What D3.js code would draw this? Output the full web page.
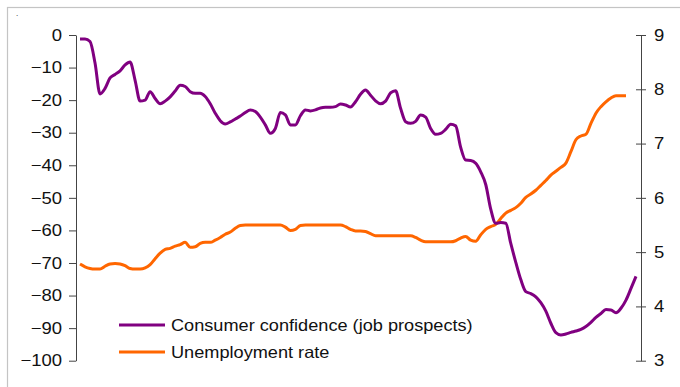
<!DOCTYPE html>
<html>
<head>
<meta charset="utf-8">
<script src="https://cdn.jsdelivr.net/npm/d3@7"></script>
<style>
  html, body { margin: 0; padding: 0; background: #fff; }
  svg { display: block; }
  text { font-family: "Liberation Sans", Arial, Helvetica, sans-serif; fill: #111; }
</style>
</head>
<body>
<svg id="chart" width="680" height="387"></svg>
<script>
// Consumer confidence (job prospects), balance of opinion, monthly
const confidence = [
  -1.2, -1.2, -2, -8.6, -18.1, -16.4, -13.2, -12.1, -11.0, -9.2,
  -8.3, -13.9, -20.3, -20, -17.4, -19.5, -21.1, -20.3, -19, -17.2,
  -15.4, -15.8, -17.4, -17.9, -17.9, -18.9, -21.1, -24, -26.3, -27.3,
  -26.7, -25.8, -24.9, -23.8, -23, -23.5, -25.2, -27.6, -30.2, -28.7,
  -23.8, -24.5, -27.6, -27.6, -24.8, -23, -23.3, -23, -22.4, -22.2,
  -22.2, -22, -21.2, -21.5, -22.1, -20.5, -18.2, -16.9, -18.5, -20.2,
  -21.1, -20.3, -17.8, -17.1, -22.5, -26.6, -27.1, -26.5, -24.6, -25.2,
  -28.7, -30.5, -30.2, -29, -27.4, -27.9, -34.5, -38.4, -38.5, -39.4,
  -42, -45.9, -53.5, -57.8, -57.6, -57.8, -64, -69.8, -75.1, -78.8,
  -79.4, -80.4, -82.2, -84.8, -88.5, -91.4, -92.1, -91.8, -91.3, -90.9,
  -90.4, -89.5, -88.2, -86.7, -85.5, -84.3, -84.4, -85.3, -83.9, -81.4,
  -77.8, -74.1
];

// Unemployment rate, %, same months (one fewer observation at the end)
const unemployment = [
  4.78, 4.73, 4.70, 4.69, 4.69, 4.74, 4.78, 4.79, 4.78, 4.75,
  4.70, 4.69, 4.69, 4.71, 4.77, 4.88, 4.98, 5.05, 5.07, 5.11,
  5.14, 5.18, 5.09, 5.10, 5.16, 5.18, 5.18, 5.22, 5.27, 5.33,
  5.37, 5.44, 5.49, 5.50, 5.50, 5.50, 5.50, 5.50, 5.50, 5.50,
  5.50, 5.46, 5.40, 5.42, 5.49, 5.50, 5.50, 5.50, 5.50, 5.50,
  5.50, 5.50, 5.50, 5.47, 5.42, 5.39, 5.39, 5.38, 5.34, 5.30,
  5.30, 5.30, 5.30, 5.30, 5.30, 5.30, 5.30, 5.27, 5.22, 5.19,
  5.19, 5.19, 5.19, 5.19, 5.19, 5.21, 5.26, 5.29, 5.22, 5.20,
  5.32, 5.42, 5.47, 5.51, 5.62, 5.72, 5.77, 5.82, 5.90, 6.01,
  6.07, 6.14, 6.23, 6.32, 6.42, 6.49, 6.56, 6.64, 6.85, 7.07,
  7.14, 7.17, 7.37, 7.56, 7.68, 7.77, 7.84, 7.88, 7.88, 7.88
];

const leftTicks = [0, -10, -20, -30, -40, -50, -60, -70, -80, -90, -100];
const rightTicks = [3, 4, 5, 6, 7, 8, 9];
const seriesNames = ["Consumer confidence (job prospects)", "Unemployment rate"];
const seriesColors = ["#800080", "#ff6600"];

const svg = d3.select("#chart");

// outer frame
svg.append("rect")
  .attr("x", 7.5).attr("y", 7.5)
  .attr("width", 690).attr("height", 400)
  .attr("fill", "none").attr("stroke", "#c4c4c4").attr("stroke-width", 1.2);

svg.append("text").attr("x", 16).attr("y", 16).attr("font-size", 8).text(".");

const plot = { left: 76, right: 641, top: 35, bottom: 360.7 };

const x = d3.scaleLinear().domain([0, confidence.length - 1]).range([80, 636]);
const yL = d3.scaleLinear().domain([-100, 0]).range([plot.bottom, plot.top]);
const yR = d3.scaleLinear().domain([3, 9]).range([plot.bottom, plot.top]);

function styleTickText(sel) {
  sel.attr("font-size", 16.5)
    .attr("font-family", "Liberation Sans, Arial, sans-serif")
    .attr("fill", "#111")
    .each(function () {
      // slightly wide lettering
      const w = this.getComputedTextLength();
      d3.select(this).attr("textLength", w * 1.12).attr("lengthAdjust", "spacingAndGlyphs");
    });
}

// left axis
const gL = svg.append("g")
  .attr("transform", `translate(${plot.left},0)`)
  .call(d3.axisLeft(yL).tickValues(leftTicks).tickSizeInner(7).tickSizeOuter(0).tickPadding(7)
    .tickFormat(d3.format("d")));
gL.select(".domain").attr("stroke", "#444");
gL.selectAll(".tick line").attr("stroke", "#444");
gL.selectAll(".tick text").call(styleTickText);

// right axis, ticks straddle the line
const gR = svg.append("g")
  .attr("transform", `translate(${plot.right},0)`)
  .call(d3.axisRight(yR).tickValues(rightTicks).tickSizeInner(5).tickSizeOuter(0).tickPadding(8)
    .tickFormat(d3.format("d")));
gR.select(".domain").attr("stroke", "#444");
gR.selectAll(".tick line").attr("x1", -5).attr("x2", 5).attr("stroke", "#444");
gR.selectAll(".tick text").call(styleTickText);

// series
const lineL = d3.line().x((d, i) => x(i)).y(d => yL(d)).curve(d3.curveMonotoneX);
const lineR = d3.line().x((d, i) => x(i)).y(d => yR(d)).curve(d3.curveMonotoneX);

svg.append("path").datum(unemployment)
  .attr("d", lineR).attr("fill", "none")
  .attr("stroke", seriesColors[1]).attr("stroke-width", 3).attr("stroke-linejoin", "round");

svg.append("path").datum(confidence)
  .attr("d", lineL).attr("fill", "none")
  .attr("stroke", seriesColors[0]).attr("stroke-width", 3).attr("stroke-linejoin", "round");

// legend
const legend = svg.append("g");
seriesNames.forEach((name, i) => {
  const ly = 325 + i * 27;
  legend.append("line")
    .attr("x1", 119).attr("x2", 165).attr("y1", ly).attr("y2", ly)
    .attr("stroke", seriesColors[i]).attr("stroke-width", 3);
  const t = legend.append("text")
    .attr("x", 171).attr("y", ly + 6)
    .attr("font-size", 16.5)
    .text(name);
  const w = t.node().getComputedTextLength();
  t.attr("textLength", w * 1.1).attr("lengthAdjust", "spacingAndGlyphs");
});
</script>
</body>
</html>
